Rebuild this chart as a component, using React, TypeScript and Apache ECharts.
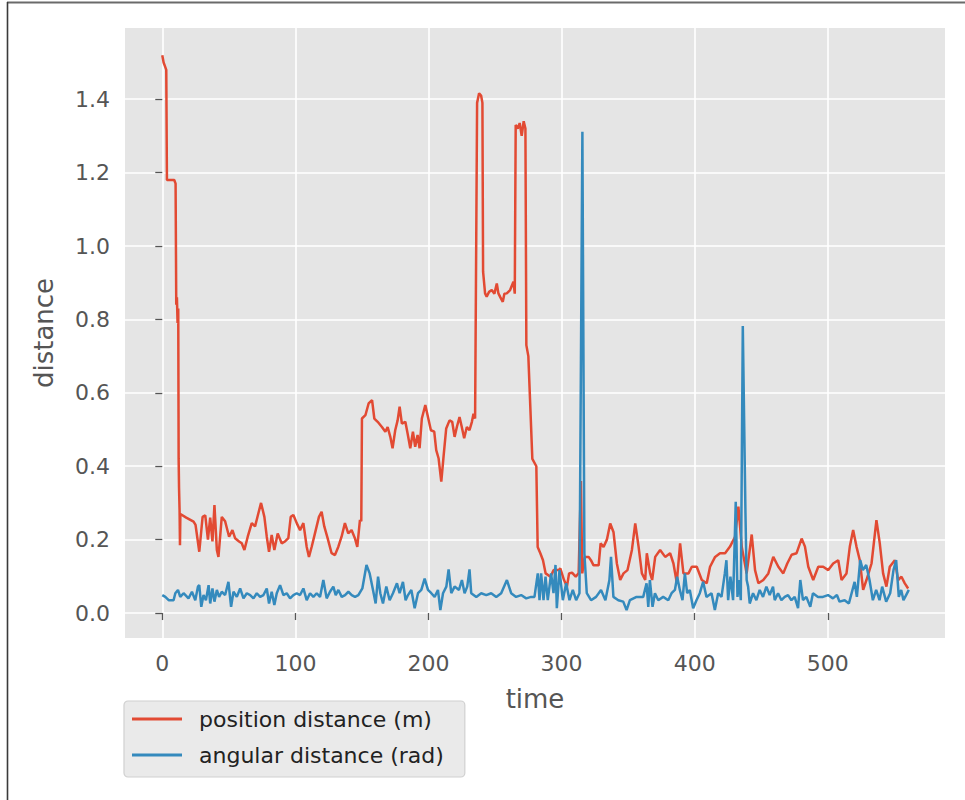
import React, { useEffect, useRef } from "react";
import * as echarts from "echarts";

const xTickValues = [0, 100, 200, 300, 400, 500];
const yTickValues = [0, 0.2, 0.4, 0.6, 0.8, 1.0, 1.2, 1.4];

const seriesNames = ["position distance (m)", "angular distance (rad)"];

const posTime = [
  0, 1, 2, 3, 3.5, 9, 10, 10.5, 11, 11.5, 12, 12.3, 12.6, 13, 13.3, 13.6, 18, 23.5, 25, 27.8,
  30.3, 32.3, 34.3, 36, 37.7, 39.2, 41, 42.2, 44.7, 47.2, 50.2, 52.7, 54.7, 57.7, 59.7, 61.7,
  64.2, 67.2, 69.7, 72.2, 74.2, 76.7, 78.5, 80.2, 82.2, 84.2, 86.7, 89.7, 92.2, 94.7, 96.5,
  98.5, 101, 103.5, 106, 108.5, 110.2, 112.2, 114.7, 117.7, 119.7, 121.7, 124.2, 127.2, 129.7,
  132.2, 134.7, 137.2, 139.7, 142.2, 144.7, 146.5, 148.5, 149.5, 150, 152.6, 155, 157.6, 159.3,
  161.8, 165, 167.6, 169.3, 171.3, 173, 175, 176.8, 178.3, 180, 182.6, 184.3, 186.3, 188.3, 190,
  191.8, 193.3, 195, 197.6, 199.3, 201.8, 204.3, 205.8, 207.6, 209.6, 211.3, 213.3, 215.8, 217.8,
  219.6, 221.3, 223.3, 225, 226.8, 228.8, 230.8, 232.6, 233.8, 235, 236.5, 238, 239.5, 240.5, 241,
  242.5, 243.7, 245.5, 247.5, 249.5, 251.3, 252.5, 254, 255.8, 257, 258.8, 261.3, 263.8, 264.8,
  265.5, 267, 268.5, 270, 271.5, 272.8, 273.5, 275, 278, 281, 282, 284, 286, 288, 291.6, 294, 298,
  299, 301.8, 304, 305.6, 307.8, 310.6, 312.8, 314.5, 315.5, 317.5, 320.3, 322, 324, 327.8, 329.3,
  331.5, 334, 336.5, 339, 341.5, 344, 346.5, 349.5, 352.8, 355.3, 357.8, 360.3, 362.8, 364, 366.5,
  368, 370.3, 374, 377.8, 381.5, 384, 386.5, 389, 391.5, 395.3, 397.8, 401.5, 405.3, 409, 411.5,
  415.3, 419, 422.8, 426.5, 430.3, 432.8, 435.3, 439, 442.8, 445.3, 447.8, 451.5, 455.3, 459, 462.8,
  466.5, 469.5, 472.8, 476.5, 480.3, 482.8, 485.3, 489, 492.8, 496.5, 500.3, 504, 507.8, 510.3, 514,
  516.5, 519, 521.5, 524, 526.5, 529, 532.8, 536.5, 539, 541.5, 544, 546.5, 550.3, 552.8, 555.3,
  557.8, 560.3,
];

const posDist = [
  1.52, 1.5, 1.49, 1.48, 1.18, 1.18, 1.17, 0.84, 0.86, 0.79, 0.83, 0.42, 0.34, 0.28, 0.185, 0.27,
  0.26, 0.249, 0.24, 0.167, 0.262, 0.266, 0.2, 0.26, 0.195, 0.294, 0.172, 0.153, 0.262, 0.25, 0.208,
  0.226, 0.204, 0.195, 0.19, 0.172, 0.208, 0.245, 0.236, 0.272, 0.3, 0.262, 0.208, 0.167, 0.213,
  0.172, 0.217, 0.19, 0.195, 0.204, 0.262, 0.267, 0.245, 0.226, 0.245, 0.18, 0.153, 0.18, 0.217,
  0.262, 0.276, 0.236, 0.204, 0.163, 0.158, 0.18, 0.208, 0.245, 0.217, 0.226, 0.204, 0.18, 0.254,
  0.25, 0.53, 0.539, 0.571, 0.58, 0.53, 0.521, 0.507, 0.494, 0.507, 0.48, 0.449, 0.498, 0.525,
  0.562, 0.516, 0.521, 0.489, 0.449, 0.494, 0.453, 0.485, 0.449, 0.53, 0.567, 0.539, 0.498, 0.494,
  0.444, 0.421, 0.358, 0.426, 0.503, 0.525, 0.521, 0.48, 0.507, 0.534, 0.507, 0.476, 0.507, 0.498,
  0.521, 0.543, 0.53, 1.39, 1.416, 1.41, 1.39, 0.93, 0.871, 0.862, 0.875, 0.88, 0.87, 0.898, 0.871,
  0.86, 0.848, 0.87, 0.871, 0.88, 0.903, 0.87, 1.33, 1.32, 1.335, 1.3, 1.34, 1.32, 0.73, 0.7, 0.42,
  0.4, 0.18, 0.163, 0.144, 0.108, 0.099, 0.117, 0.117, 0.122, 0.09, 0.072, 0.108, 0.11, 0.099, 0.109,
  0.36, 0.108, 0.153, 0.153, 0.144, 0.13, 0.13, 0.19, 0.18, 0.2, 0.244, 0.22, 0.135, 0.09, 0.108,
  0.117, 0.172, 0.244, 0.181, 0.108, 0.09, 0.163, 0.108, 0.09, 0.153, 0.172, 0.153, 0.163, 0.135,
  0.083, 0.19, 0.108, 0.108, 0.126, 0.126, 0.09, 0.081, 0.126, 0.153, 0.163, 0.163, 0.181, 0.208,
  0.29, 0.181, 0.108, 0.214, 0.117, 0.081, 0.09, 0.108, 0.153, 0.126, 0.108, 0.135, 0.159, 0.163,
  0.203, 0.181, 0.126, 0.09, 0.126, 0.126, 0.117, 0.135, 0.144, 0.09, 0.108, 0.181, 0.226, 0.181,
  0.144, 0.063, 0.09, 0.135, 0.253, 0.19, 0.108, 0.072, 0.126, 0.144, 0.09, 0.099, 0.081, 0.067,
];

const angTime = [
  0, 2.3, 4.8, 8.5, 9.8, 11.8, 13.5, 16, 19.7, 22.3, 24.8, 26.8, 27.8, 29.3, 31, 32.8, 34.8, 36,
  37.7, 39.2, 41, 42.7, 44.7, 47.2, 49.7, 51.7, 53.5, 56, 58.5, 61, 63.5, 66, 68.5, 71, 73.5, 76,
  78.5, 80.2, 82.2, 84.2, 86, 88.5, 91, 93.5, 96, 98.5, 101, 103.5, 106, 108.5, 111, 113.5, 116,
  118.5, 121, 123.5, 126, 128.5, 130.3, 132.3, 134.8, 137.3, 139.8, 142.3, 144.8, 147.3, 150.3,
  153.4, 155.8, 158.3, 160.3, 162.1, 163.8, 165.8, 168.3, 170.8, 173.3, 176.3, 178.3, 180.8, 182.8,
  184.6, 187.1, 189.6, 192.1, 194.6, 197.1, 199.6, 202.1, 204.6, 207.1, 208.9, 210.9, 213.4, 215.1,
  217.1, 219.6, 222.9, 225.1, 227.1, 229.1, 230.8, 232.1, 235.9, 239.6, 243.4, 247.1, 250.9, 254.6,
  258.9, 262.1, 265.8, 269.6, 273.4, 277.1, 279.6, 282.1, 283.4, 284.6, 286.4, 287.9, 289.6, 292.1,
  293.9, 295.4, 296.4, 298.4, 300.9, 303.4, 305.9, 308.4, 310.9, 313.4, 315.6, 317.1, 318.9, 322.1,
  325.9, 329.6, 332.9, 335.9, 337.1, 338.9, 342.6, 346.3, 348.8, 351.3, 356.3, 361.3, 363.8, 365.1,
  366.3, 368.3, 370.1, 372.6, 376.3, 380.1, 382.6, 385.1, 386.8, 388.8, 390.8, 392.6, 394.3, 396.3,
  398.8, 401.3, 403.8, 406.3, 408.8, 412.6, 415.1, 417.6, 420.1, 422.6, 423.8, 425.1, 426.8, 428.8,
  430.8, 432.1, 433.3, 434.6, 436.1, 438.1, 439, 440.1, 441.3, 443.8, 446.3, 448.8, 451.3, 453.8,
  456.3, 458.8, 460.1, 462.6, 465.1, 467.6, 470.1, 472.6, 475.1, 477.6, 479.3, 481.3, 483.8, 486.8,
  488.8, 492.6, 496.3, 500.1, 503.8, 506.8, 508.8, 512.6, 515.8, 520.1, 521.8, 524.3, 526.3, 528.8,
  531.3, 533.8, 536.3, 538.8, 540.8, 543.8, 546.8, 549.3, 551.3, 553.3, 555.1, 556.8, 558.8, 560.8,
];

const angDist = [
  0.049, 0.044, 0.035, 0.035, 0.054, 0.063, 0.044, 0.054, 0.04, 0.058, 0.035, 0.072, 0.076, 0.017,
  0.049, 0.035, 0.076, 0.026, 0.067, 0.031, 0.063, 0.044, 0.058, 0.049, 0.085, 0.017, 0.058, 0.044,
  0.067, 0.04, 0.054, 0.049, 0.04, 0.054, 0.044, 0.049, 0.067, 0.026, 0.058, 0.022, 0.054, 0.076,
  0.049, 0.054, 0.04, 0.049, 0.054, 0.049, 0.067, 0.035, 0.054, 0.044, 0.054, 0.044, 0.09, 0.04,
  0.058, 0.072, 0.049, 0.063, 0.044, 0.049, 0.058, 0.049, 0.044, 0.049, 0.067, 0.131, 0.108, 0.063,
  0.026, 0.099, 0.054, 0.026, 0.072, 0.035, 0.054, 0.081, 0.054, 0.085, 0.035, 0.049, 0.063, 0.013,
  0.054, 0.063, 0.094, 0.063, 0.054, 0.044, 0.063, 0.008, 0.054, 0.072, 0.119, 0.054, 0.072, 0.063,
  0.09, 0.054, 0.072, 0.119, 0.054, 0.044, 0.054, 0.049, 0.054, 0.044, 0.054, 0.09, 0.054, 0.044,
  0.049, 0.04, 0.044, 0.044, 0.108, 0.035, 0.108, 0.035, 0.099, 0.035, 0.108, 0.054, 0.131, 0.013,
  0.117, 0.035, 0.081, 0.035, 0.063, 0.035, 0.054, 1.311, 0.163, 0.054, 0.035, 0.044, 0.063, 0.035,
  0.09, 0.153, 0.044, 0.035, 0.031, 0.008, 0.035, 0.044, 0.044, 0.081, 0.017, 0.09, 0.017, 0.054,
  0.035, 0.044, 0.035, 0.054, 0.063, 0.099, 0.063, 0.035, 0.108, 0.054, 0.063, 0.013, 0.035, 0.054,
  0.085, 0.044, 0.054, 0.008, 0.054, 0.044, 0.108, 0.144, 0.035, 0.099, 0.035, 0.303, 0.044, 0.09,
  0.035, 0.782, 0.272, 0.09, 0.072, 0.026, 0.054, 0.035, 0.063, 0.044, 0.072, 0.049, 0.072, 0.035,
  0.054, 0.035, 0.044, 0.049, 0.035, 0.044, 0.013, 0.09, 0.035, 0.044, 0.017, 0.054, 0.044, 0.044,
  0.049, 0.04, 0.049, 0.031, 0.035, 0.026, 0.085, 0.044, 0.144, 0.117, 0.131, 0.09, 0.035, 0.063,
  0.035, 0.072, 0.031, 0.054, 0.117, 0.144, 0.044, 0.063, 0.035, 0.049, 0.063,
];

const RED = "#E24A33";
const BLUE = "#348ABD";
const TICK_GRAY = "#555555";

export default function App() {
  const ref = useRef<HTMLDivElement>(null);

  useEffect(() => {
    if (!ref.current) return;
    const chart = echarts.init(ref.current, null, { renderer: "svg" });
    const posData = posTime.map((t, i) => [t, posDist[i]]);
    const angData = angTime.map((t, i) => [t, angDist[i]]);

    chart.setOption({
      animation: false,
      backgroundColor: "#ffffff",
      textStyle: { fontFamily: "DejaVu Sans" },
      grid: {
        left: 125,
        top: 28,
        right: 20,
        bottom: 162,
        show: true,
        backgroundColor: "#E5E5E5",
        borderWidth: 0,
      },
      xAxis: {
        type: "value",
        min: -28,
        max: 588,
        splitNumber: 6,
        name: "time",
        nameLocation: "middle",
        nameGap: 48,
        nameTextStyle: { color: TICK_GRAY, fontSize: 26, fontFamily: "DejaVu Sans" },
        axisLine: { show: false },
        axisTick: {
          show: true,
          length: 7,
          customValues: xTickValues,
          lineStyle: { color: TICK_GRAY, width: 1.3 },
        },
        axisLabel: {
          customValues: xTickValues,
          color: TICK_GRAY,
          fontSize: 22,
          margin: 14,
          fontFamily: "DejaVu Sans",
        },
        splitLine: { show: true, lineStyle: { color: "#ffffff", width: 1.6 } },
      },
      yAxis: {
        type: "value",
        min: -0.068,
        max: 1.594,
        splitNumber: 8,
        name: "distance",
        nameLocation: "middle",
        nameGap: 68,
        nameRotate: 90,
        nameTextStyle: { color: TICK_GRAY, fontSize: 26, fontFamily: "DejaVu Sans" },
        axisLine: { show: false },
        axisTick: {
          show: true,
          length: 7,
          customValues: yTickValues,
          lineStyle: { color: TICK_GRAY, width: 1.3 },
        },
        axisLabel: {
          customValues: yTickValues,
          color: TICK_GRAY,
          fontSize: 22,
          margin: 15,
          fontFamily: "DejaVu Sans",
          formatter: (v: number) => v.toFixed(1),
        },
        splitLine: { show: true, lineStyle: { color: "#ffffff", width: 1.6 } },
      },
      legend: {
        show: true,
        orient: "vertical",
        left: 124,
        top: 701,
        icon: "rect",
        itemWidth: 50,
        itemHeight: 3,
        itemGap: 14,
        padding: [7, 21, 11, 8],
        backgroundColor: "#EAEAEA",
        borderColor: "#D0D0D0",
        borderWidth: 1.2,
        borderRadius: 4,
        textStyle: {
          color: "#222222",
          fontSize: 22,
          lineHeight: 22,
          fontFamily: "DejaVu Sans",
          padding: [0, 0, 0, 12],
        },
        data: seriesNames,
      },
      graphic: [
        {
          type: "line",
          shape: { x1: 7, y1: 2.5, x2: 965, y2: 2.5 },
          style: { stroke: "#6a6a6a", lineWidth: 2 },
          silent: true,
        },
        {
          type: "line",
          shape: { x1: 7.5, y1: 2, x2: 7.5, y2: 800 },
          style: { stroke: "#3a3a3a", lineWidth: 1.6 },
          silent: true,
        },
      ],
      series: [
        {
          name: seriesNames[0],
          type: "line",
          data: posData,
          showSymbol: false,
          symbol: "none",
          lineStyle: { color: RED, width: 2.5 },
          itemStyle: { color: RED },
          clip: true,
        },
        {
          name: seriesNames[1],
          type: "line",
          data: angData,
          showSymbol: false,
          symbol: "none",
          lineStyle: { color: BLUE, width: 2.5 },
          itemStyle: { color: BLUE },
          clip: true,
        },
      ],
    });

    return () => chart.dispose();
  }, []);

  return (
    <div
      ref={ref}
      style={{ position: "absolute", left: 0, top: 0, width: 965, height: 800 }}
    />
  );
}
